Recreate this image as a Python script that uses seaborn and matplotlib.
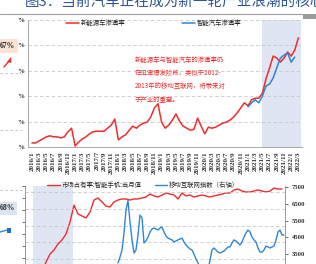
import matplotlib
matplotlib.use("Agg")
import matplotlib.pyplot as plt
from matplotlib.patches import Rectangle
from matplotlib.lines import Line2D
import seaborn as sns
import numpy as np
import pandas as pd

# ---- top chart: NEV / smart car penetration (%), monthly 2016/1 - 2022/3
months_top = pd.date_range("2016-01", "2022-03", freq="MS")
tick_labels_top = [f"{d.year}/{d.month}" for d in months_top[::2]]
nev_rate = [0.8, 0.8, 1.2, 1.6, 2.0, 2.2, 2.0, 2.0, 1.8, 2.0, 3.0, 3.7,
            0.2, 1.0, 1.6, 2.0, 2.6, 3.0, 3.1, 3.1, 3.1, 3.7, 4.3, 5.5,
            1.4, 2.0, 2.4, 3.3, 4.1, 3.7, 4.3, 4.7, 4.9, 5.9, 7.7, 8.5,
            4.9, 3.7, 4.3, 5.3, 6.5, 5.1, 4.1, 3.7, 3.3, 3.5, 5.7, 4.1,
            2.6, 3.9, 3.7, 3.9, 4.3, 4.7, 4.9, 5.3, 5.9, 6.7, 7.7, 8.7,
            8.1, 9.3, 9.6, 9.6, 10.6, 13.4, 15.6, 17.9, 17.5, 16.7, 17.5, 18.7,
            17.9, 19.1, 21.5]
smart_start = 60  # 2021/1
smart_rate = [7.9, 8.7, 9.3, 8.7, 10.0, 12.0, 12.4, 13.6, 15.6, 17.5, 18.1, 18.5,
              16.7, 17.7]

# ---- bottom chart: smartphone share (%) and mobile internet index, monthly from 2011/9
months_bottom = pd.date_range("2011-09", periods=130, freq="MS")
share_start = 8  # every 2 months
phone_share = [28, 36.7, 43.3, 46.7, 51.7, 55, 60, 70, 84, 76.7, 75, 73.3, 78.3,
               88.3, 90, 86.7, 83.3, 82.5, 86.7, 88.3, 89.2, 89.2, 88.3, 89.2,
               89.2, 90, 90.8, 93.3, 91.7, 90.8, 92.5, 94.2, 93.3, 92.5, 89.2,
               94.2, 91.7, 92.5, 90.8, 91.7, 92.5, 91.7, 90.8, 91.7, 92.5, 93.3,
               94.2, 94.2, 96.7, 97.5, 95.8, 95, 95, 95.8, 96.7, 95.8, 95, 95.8,
               98.3, 97.5, 97.5]
index_start = 46
mobile_index = [2980, 3330, 3750, 4760, 6130, 6700, 5420, 4350, 3570, 3750, 4640, 5830,
                5660, 4170, 4290, 4520, 4820, 5000, 5060, 5000, 4940, 5060, 5120, 4820,
                4580, 4460, 4400, 4350, 4230, 4290, 4350, 4400, 4460, 4230, 4050, 3930,
                3810, 3750, 3510, 3210, 2980, 2680, 2440, 2260, 2260, 2560, 3150, 3750,
                3870, 3750, 3630, 3570, 3630, 3690, 3810, 3930, 3930, 4170, 4350, 4290,
                4170, 4050, 4230, 4520, 4760, 4940, 4820, 4520, 4350, 4230, 3870, 3630,
                3630, 3750, 3990, 3930, 3870, 3930, 3990, 4350, 4820, 4940, 4640, 4640]
right_ticks = [3500, 4500, 5500, 6500, 7500]

RED = "#f22b2b"
BLUE = "#2f86d6"
SHADE = "#dfe5f3"
GRID = "#c8c8c8"
CJK = ["Noto Sans CJK SC", "DejaVu Sans"]
SERIF = ["Liberation Serif", "DejaVu Serif"]

sns.set_style("white")
plt.rcParams["font.family"] = CJK

W, H = 316, 264


def fx(x):
    return x / W


def fy(y):
    return 1 - y / H


def box(x0, y0, x1, y1):
    return [fx(x0), fy(y1), (x1 - x0) / W, (y1 - y0) / H]


fig = plt.figure(figsize=(W / 100, H / 100), dpi=100)

# title (cut off at top) and separator
fig.text(fx(25), fy(3), "图3：当前汽车正在成为新一轮产业浪潮的核心", color="#2F5597",
         fontsize=10.5, va="center", ha="left", family=CJK)
fig.add_artist(Line2D([0, fx(305)], [fy(14), fy(14)], color="#a0a0a0", lw=0.8))
fig.patches.append(Rectangle((fx(303), fy(19)), fx(13), 5 / H, transform=fig.transFigure,
                             color="#9a9a9a", lw=0))

# left side call-outs
fig.patches.append(Rectangle((0, fy(53)), fx(18), 14 / H, transform=fig.transFigure,
                             color="#fbe3d3", lw=0))
fig.text(fx(0), fy(46), "67%", fontsize=5.5, fontweight="bold", family=SERIF, va="center")
fig.add_artist(Line2D([fx(4), fx(9)], [fy(67), fy(61)], color=RED, lw=1.0))
fig.patches.append(plt.Polygon([(fx(7), fy(62)), (fx(11), fy(57)), (fx(11.5), fy(63))],
                               closed=True, transform=fig.transFigure, color=RED, lw=0))
fig.patches.append(Rectangle((0, fy(215)), fx(17), 13 / H, transform=fig.transFigure,
                             color="#dce6f2", lw=0))
fig.text(fx(0), fy(208), "68%", fontsize=5.5, fontweight="bold", family=SERIF, va="center")
fig.add_artist(Line2D([0, fx(7)], [fy(232), fy(230)], color=BLUE, lw=1.0))
fig.patches.append(Rectangle((fx(6.5), fy(233)), fx(4), 5 / H, transform=fig.transFigure,
                             color="#1f6fc0", lw=0))
for yy in (73, 130, 190):
    fig.add_artist(Line2D([0, fx(22)], [fy(yy), fy(yy)], color="#bbbbbb", lw=0.6,
                          ls=(0, (3, 3))))

# ---- top chart
ax1 = fig.add_axes(box(28, 20, 302, 147))
ax1.axvspan(63.8, 74.6, color=SHADE, zorder=0, lw=0)
sns.lineplot(x=np.arange(len(nev_rate)), y=nev_rate, color=RED, lw=1.1, ax=ax1,
             label="新能源车渗透率")
sns.lineplot(x=np.arange(smart_start, smart_start + len(smart_rate)), y=smart_rate,
             color=BLUE, lw=1.1, ax=ax1, label="智能汽车渗透率")
ax1.set_xlim(-1.1, 75)
ax1.set_ylim(0, 25)
ax1.set_yticks([0, 5, 10, 15, 20, 25])
ax1.set_yticklabels(["%"] * 6, fontsize=5, fontweight="bold", family=SERIF)
ax1.set_xticks(range(0, len(nev_rate), 2))
ax1.set_xticklabels(tick_labels_top, rotation=90, fontsize=5, fontweight="bold",
                    family=SERIF)
ax1.tick_params(axis="both", length=2, width=0.5, pad=1, colors="#333333")
ax1.yaxis.grid(True, color=GRID, ls=(0, (4, 3)), lw=0.6)
ax1.set_axisbelow(True)
for s in ("top", "right"):
    ax1.spines[s].set_visible(False)
for s in ("left", "bottom"):
    ax1.spines[s].set_color("#999999")
    ax1.spines[s].set_linewidth(0.6)
ax1.legend(loc="upper left", bbox_to_anchor=(0.13, 1.03), ncol=2, frameon=False,
           fontsize=4.6, handlelength=2.0, handletextpad=0.3, columnspacing=8.9,
           borderaxespad=0)
ax1.text(0.39, 0.72, "新能源车与智能汽车的渗透率仍\n在迅速爆发阶段，类似于2012-\n"
         "2013年的移动互联网，将带来对\n于产业的重塑。", transform=ax1.transAxes,
         color=RED, fontsize=4.6, va="top", ha="left", linespacing=1.9, family=CJK)

# ---- bottom chart
ax2 = fig.add_axes(box(25, 186, 285, 270))
ax2.axvspan(3.5, 23.5, color=SHADE, zorder=0, lw=0)
sns.lineplot(x=np.arange(share_start, share_start + 2 * len(phone_share), 2), y=phone_share,
             color=RED, lw=1.0, ax=ax2, legend=False)
ax2.set_xlim(-0.5, 129.5)
ax2.set_ylim(30, 100)
ax2.set_yticks(range(40, 101, 10))
ax2.set_yticklabels([])
ax2.set_xticks([])
ax2.tick_params(axis="y", length=2, width=0.5, colors="#333333")
ax3 = ax2.twinx()
sns.lineplot(x=np.arange(index_start, index_start + len(mobile_index)), y=mobile_index,
             color=BLUE, lw=1.0, ax=ax3, legend=False)
ax3.set_ylim(2560, 7560)
ax3.set_yticks(right_ticks)
ax3.set_yticklabels([str(v) for v in right_ticks], fontsize=4.8, fontweight="bold",
                    family=SERIF)
ax3.set_yticks([3200, 4200, 5200, 6200, 7200], minor=True)
ax3.yaxis.grid(True, which="minor", color=GRID, ls=(0, (4, 3)), lw=0.6)
ax3.tick_params(axis="y", which="major", length=2, width=0.5, pad=3, colors="#333333")
ax3.tick_params(axis="y", which="minor", length=0)
ax3.set_ylabel("")
ax2.set_ylabel("")
for a in (ax2, ax3):
    a.spines["top"].set_visible(False)
    a.spines["bottom"].set_visible(False)
    for s in ("left", "right"):
        a.spines[s].set_color("#999999")
        a.spines[s].set_linewidth(0.6)
handles = [Line2D([], [], color=RED, lw=1.0), Line2D([], [], color=BLUE, lw=1.0)]
ax3.legend(handles, ["市场占有率:智能手机:当月值", "移动互联网指数（右轴）"],
           loc="lower left", bbox_to_anchor=(0.075, 0.93), ncol=2, frameon=False,
           fontsize=4.6, handlelength=2.0, handletextpad=0.3, columnspacing=2.0,
           borderaxespad=0)

fig.savefig("out.png", dpi=100)
